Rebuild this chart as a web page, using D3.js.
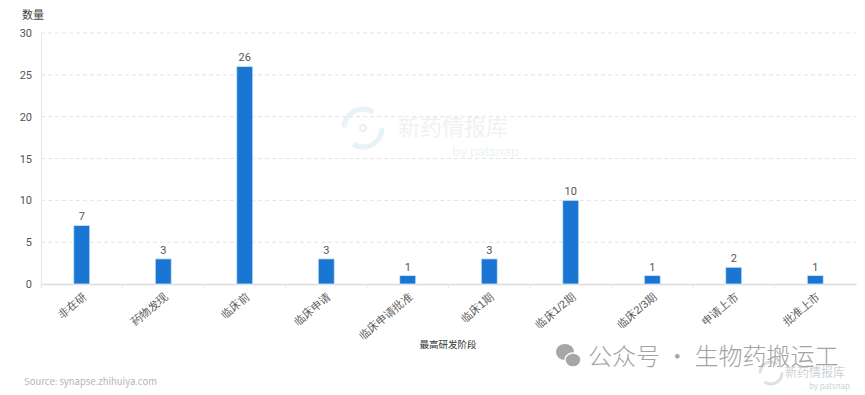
<!DOCTYPE html>
<html>
<head>
<meta charset="utf-8">
<script src="https://cdn.jsdelivr.net/npm/d3@7"></script>
<style>
  body { margin: 0; background: #fff; }
  svg { display: block; font-family: "Noto Sans CJK SC", "Noto Sans", sans-serif; }
</style>
</head>
<body>
<svg id="chart" width="865" height="395"></svg>
<script>
// stages and counts
let stages = ['非在研', '药物发现', '临床前', '临床申请', '临床申请批准', '临床1期', '临床1/2期', '临床2/3期', '申请上市', '批准上市']
let counts = [7, 3, 26, 3, 1, 3, 10, 1, 2, 1]
let yTicks = [0, 5, 10, 15, 20, 25, 30]

let svg = d3.select('#chart')
let margin = { left: 41, right: 9, top: 33, bottom: 111 }
let width = 865, height = 395

let x = d3.scaleBand()
    .domain(stages)
    .range([margin.left, width - margin.right])

let y = d3.scaleLinear()
    .domain([0, 30])
    .range([height - margin.bottom, margin.top])

// faint watermark in the middle
let wm = svg.append('g').attr('opacity', 0.5)
wm.append('circle').attr('cx', 363).attr('cy', 128).attr('r', 19)
    .attr('fill', 'none').attr('stroke', '#cfe9f0').attr('stroke-width', 5)
    .attr('stroke-dasharray', '40 20')
wm.append('circle').attr('cx', 363).attr('cy', 128).attr('r', 3)
    .attr('fill', 'none').attr('stroke', '#cfe9f0').attr('stroke-width', 2)
wm.append('text').attr('x', 398).attr('y', 135).text('新药情报库')
    .attr('font-size', 22).attr('fill', '#dfe6ec')
wm.append('text').attr('x', 452).attr('y', 156).text('by patsnap')
    .attr('font-size', 13).attr('fill', '#d6eedd')

// grid lines
svg.append('g')
    .selectAll('line')
    .data(yTicks.filter(d => d > 0))
    .enter()
    .append('line')
    .attr('x1', margin.left)
    .attr('x2', width - margin.right)
    .attr('y1', d => y(d))
    .attr('y2', d => y(d))
    .attr('stroke', '#e3e3e3')
    .attr('stroke-dasharray', '4 3')

// y axis
let yAxis = svg.append('g')
    .attr('transform', 'translate(' + margin.left + ',0)')
    .call(d3.axisLeft(y).tickValues(yTicks).tickSize(0).tickPadding(9))
yAxis.select('.domain').attr('stroke', '#e6e6e6')
yAxis.selectAll('text').attr('font-size', 11).attr('fill', '#555')
    .attr('font-family', 'Roboto, "Noto Sans", sans-serif')

svg.append('text')
    .attr('x', 33).attr('y', 19)
    .attr('text-anchor', 'middle')
    .attr('font-size', 11).attr('fill', '#444')
    .text('数量')

// x axis
let xAxis = svg.append('g')
    .attr('transform', 'translate(0,' + y(0) + ')')
    .call(d3.axisBottom(x).tickSize(0))
xAxis.select('.domain').attr('stroke', '#dcdcdc').attr('stroke-width', 1.5)
xAxis.selectAll('.tick').append('line')
    .attr('x1', -x.bandwidth() / 2).attr('x2', -x.bandwidth() / 2)
    .attr('y1', 0).attr('y2', 4)
    .attr('stroke', '#e6e6e6')
xAxis.selectAll('text')
    .attr('font-size', 11)
    .attr('fill', '#555')
    .attr('text-anchor', 'end')
    .attr('x', 0)
    .attr('y', 0)
    .attr('dy', '0.35em')
    .attr('transform', 'translate(3,11) rotate(-40)')

svg.append('text')
    .attr('x', 448).attr('y', 348)
    .attr('text-anchor', 'middle')
    .attr('font-size', 9.5).attr('fill', '#333')
    .text('最高研发阶段')

// bars
let barW = 16
svg.append('g')
    .selectAll('rect')
    .data(counts)
    .enter()
    .append('rect')
    .attr('x', (d, i) => x(stages[i]) + x.bandwidth() / 2 - barW / 2)
    .attr('y', d => y(d))
    .attr('width', barW)
    .attr('height', d => y(0) - y(d))
    .attr('fill', '#1976d2')
    .attr('stroke', '#d6e6f7')
    .attr('stroke-width', 0.8)

// value labels
svg.append('g')
    .selectAll('text')
    .data(counts)
    .enter()
    .append('text')
    .attr('x', (d, i) => x(stages[i]) + x.bandwidth() / 2)
    .attr('y', d => y(d) - 5)
    .attr('text-anchor', 'middle')
    .attr('font-size', 11)
    .attr('fill', '#555')
    .attr('font-family', 'Roboto, "Noto Sans", sans-serif')
    .text(d => d)

// source note
svg.append('text')
    .attr('x', 24).attr('y', 385)
    .attr('font-size', 9.5).attr('fill', '#b5b5b5')
    .text('Source: synapse.zhihuiya.com')

// bottom right watermark
let br = svg.append('g').attr('opacity', 0.7)
br.append('circle').attr('cx', 771).attr('cy', 373).attr('r', 11)
    .attr('fill', 'none').attr('stroke', '#ccd5dc').attr('stroke-width', 3)
    .attr('stroke-dasharray', '24 10')
br.append('text').attr('x', 785).attr('y', 377).text('新药情报库')
    .attr('font-size', 12).attr('fill', '#b8c0c8')
br.append('text').attr('x', 850).attr('y', 389).text('by patsnap')
    .attr('text-anchor', 'end').attr('font-size', 8).attr('fill', '#b8c0c8')

// wechat account mark
let wc = svg.append('g')
wc.append('ellipse').attr('cx', 565).attr('cy', 352).attr('rx', 9).attr('ry', 8).attr('fill', '#a6a6a6')
wc.append('ellipse').attr('cx', 573).attr('cy', 360).attr('rx', 8).attr('ry', 7)
    .attr('fill', '#a6a6a6').attr('stroke', '#fff').attr('stroke-width', 1.5)
wc.append('text')
    .attr('x', 588).attr('y', 365)
    .attr('font-size', 24).attr('font-weight', 300).attr('fill', '#a3a3a3')
    .text('公众号 · 生物药搬运工')
</script>
</body>
</html>
